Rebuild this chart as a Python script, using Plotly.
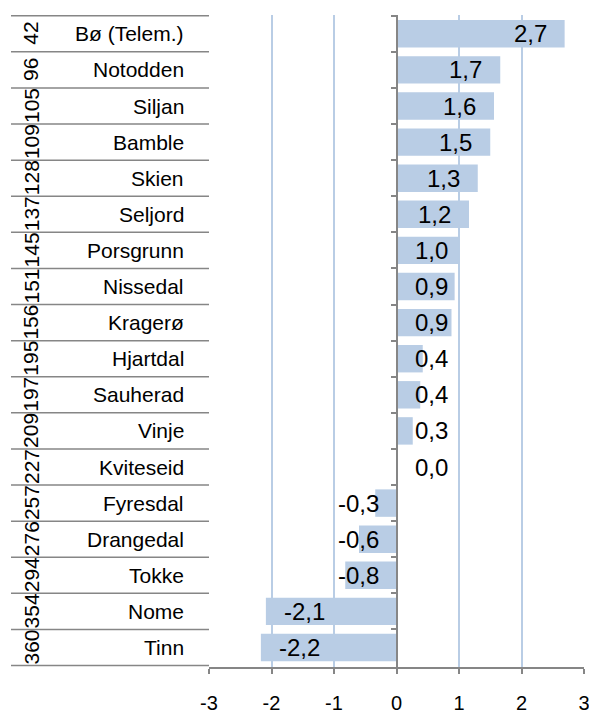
import plotly.graph_objects as go

# data
ranks = [42, 96, 105, 109, 128, 137, 145, 151, 156, 195, 197, 209, 227, 257, 276, 294, 354, 360]
names = ["Bø (Telem.)", "Notodden", "Siljan", "Bamble", "Skien", "Seljord", "Porsgrunn",
         "Nissedal", "Kragerø", "Hjartdal", "Sauherad", "Vinje", "Kviteseid", "Fyresdal",
         "Drangedal", "Tokke", "Nome", "Tinn"]
values = [2.69, 1.66, 1.56, 1.50, 1.30, 1.16, 0.99, 0.93, 0.88, 0.42, 0.38, 0.26, 0.02,
          -0.34, -0.60, -0.82, -2.09, -2.17]
xticks = [-3, -2, -1, 0, 1, 2, 3]

W, H = 589, 711
ML, MR, MT, MB = 209, 5, 15, 44
plot_w = W - ML - MR
px_per_unit = plot_w / 6

bar_color = "#B9CDE5"
axis_color = "#868686"
font = "Liberation Sans, Arial, sans-serif"

fig = go.Figure(go.Bar(
    x=values, y=names, orientation="h",
    marker=dict(color=bar_color, line=dict(width=0)),
    hoverinfo="skip",
))

def fmt(v):
    return f"{v:.1f}".replace(".", ",")

annotations = []
for n, v in zip(names, values):
    txt = fmt(v)
    w = len(txt) * 11.5
    long_bar = abs(v) * px_per_unit > w + 32
    if v >= 0:
        if long_bar:
            a = dict(x=v, xanchor="right", xshift=-16)
        else:
            a = dict(x=0, xanchor="left", xshift=16)
    else:
        if long_bar:
            a = dict(x=v, xanchor="left", xshift=16)
        else:
            a = dict(x=0, xanchor="right", xshift=-16)
    annotations.append(dict(y=n, text=txt, showarrow=False, xref="x", yref="y",
                            font=dict(size=24, color="black", family=font), **a))

# two-level category labels on the left
name_x = (186 - ML) / plot_w
rank_x = (31 - ML) / plot_w
for r, n in zip(ranks, names):
    annotations.append(dict(x=name_x, y=n, xref="paper", yref="y", text=n,
                            xanchor="right", showarrow=False,
                            font=dict(size=21, color="black", family=font)))
    annotations.append(dict(x=rank_x, y=n, xref="paper", yref="y", text=str(r),
                            textangle=-90, xanchor="center", showarrow=False,
                            font=dict(size=21, color="black", family=font)))

# row separators in the label area
shapes = []
left_edge = (11 - ML) / plot_w
for i in range(len(names) + 1):
    shapes.append(dict(type="line", xref="paper", yref="y", x0=left_edge, x1=0,
                       y0=i - 0.5, y1=i - 0.5,
                       line=dict(color=axis_color, width=1.5)))

fig.update_layout(
    width=W, height=H,
    margin=dict(l=ML, r=MR, t=MT, b=MB, autoexpand=False),
    plot_bgcolor="white", paper_bgcolor="white",
    bargap=0.24,
    showlegend=False,
    annotations=annotations,
    shapes=shapes,
    font=dict(family=font, color="black"),
    xaxis=dict(
        range=[-3, 3], tickvals=xticks, ticktext=[str(t) for t in xticks],
        showgrid=True, gridcolor=bar_color, gridwidth=1.5,
        zeroline=False, showline=True, linecolor=axis_color, linewidth=1.5,
        ticks="outside", ticklen=5, tickcolor=axis_color, tickwidth=1.5,
        tickfont=dict(size=20, color="black"), ticklabelstandoff=12,
        ticklabeloverflow="allow", automargin=False,
    ),
    yaxis=dict(
        type="category", categoryorder="array", categoryarray=names,
        autorange="reversed", anchor="free", position=0.5,
        showgrid=False, zeroline=False, showline=True, linecolor=axis_color,
        linewidth=1.5, ticks="outside", ticklen=5, tickcolor=axis_color,
        tickwidth=1.5, tickson="boundaries", showticklabels=False,
        automargin=False,
    ),
)

# the page's default body margin would push the chart off its right edge
fig.write_html("out.html", config={"displayModeBar": False},
               post_script="document.body.style.margin = '0';")
